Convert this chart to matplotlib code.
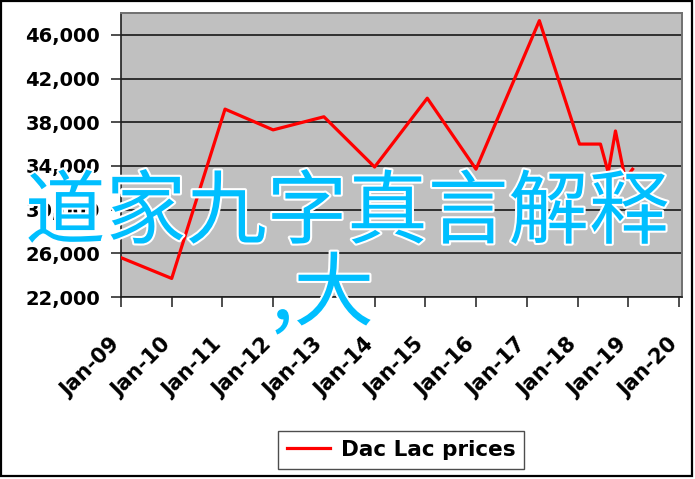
import numpy as np
import pandas as pd
import matplotlib
matplotlib.use('Agg')
import matplotlib.pyplot as plt
import matplotlib.dates as mdates
import matplotlib.patheffects as pe
from matplotlib.patches import Rectangle

# data
dates = ['2009-01-01','2010-01-01','2011-01-20','2012-01-01','2013-01-01','2014-01-01',
         '2015-01-15','2016-01-01','2017-04-01','2018-01-15','2018-06-15','2018-08-10',
         '2018-10-01','2018-12-10','2019-02-01']
prices = [25600, 23700, 39200, 37300, 38500, 33900,
          40200, 33700, 47300, 36000, 36000, 33400,
          37200, 32800, 33700]
series_name = 'Dac Lac prices'
yticks = [22000, 26000, 30000, 34000, 38000, 42000, 46000]
years = list(range(2009, 2021))
overlay1 = '道家九字真言解释'
overlay2 = ',大'

W, H = 695, 479
fig = plt.figure(figsize=(W/100, H/100), dpi=100)
ax = fig.add_axes([121/W, 1-297/H, (682-121)/W, (297-13)/H])
ax.set_facecolor('#c0c0c0')

x = pd.to_datetime(dates)
ax.plot(x, prices, color='#ff0000', lw=2.3, label=series_name, zorder=3)

ax.set_ylim(22000, 48000)
ax.set_xlim(pd.Timestamp('2009-01-01'), pd.Timestamp('2020-01-23'))
ax.set_yticks(yticks)
ax.set_yticklabels(['{:,}'.format(v) for v in yticks])
ax.set_xticks([pd.Timestamp(str(y)+'-01-01') for y in years])
ax.xaxis.set_major_formatter(mdates.DateFormatter('%b-%y'))

ax.grid(axis='y', color='#303030', lw=1.4, zorder=1)
ax.grid(axis='x', visible=False)
for s in ['left', 'bottom']:
    ax.spines[s].set_color('#202020')
    ax.spines[s].set_linewidth(1.2)
for s in ['top', 'right']:
    ax.spines[s].set_color('#707070')
    ax.spines[s].set_linewidth(1.4)

ax.tick_params(axis='both', length=7, width=1.2, color='#303030')
ax.tick_params(axis='y', pad=8, labelsize=14)
# labels hang from their baseline end, so they sit left of the tick like excel does
ax.tick_params(axis='x', pad=28, labelsize=15)
for lab in ax.get_yticklabels():
    lab.set_fontweight('bold')
for lab in ax.get_xticklabels():
    lab.set_fontweight('bold')
    lab.set_rotation(45)
    lab.set_ha('right')
    lab.set_va('baseline')
    lab.set_rotation_mode('anchor')

leg = fig.legend(loc='center', bbox_to_anchor=(401/W, 1-450/H), frameon=True, fancybox=False,
                 prop={'weight': 'bold', 'size': 15.5}, handlelength=2.0, borderpad=0.4,
                 handletextpad=0.5)
leg.get_frame().set_edgecolor('#202020')
leg.get_frame().set_linewidth(1.0)

# overlay text
outline = [pe.withStroke(linewidth=3, foreground='white')]
fig.text(347/W, 1-214/H, overlay1, fontsize=58, color='#00bfff', ha='center', va='center',
         family=['Noto Sans CJK SC', 'DejaVu Sans'], path_effects=outline, zorder=10)
fig.text(374/W, 1-296/H, overlay2, fontsize=58, color='#00bfff', ha='right', va='center',
         family=['Noto Sans CJK SC', 'DejaVu Sans'], path_effects=outline, zorder=10)

# outer frame
fig.patches.append(Rectangle((1/W, 1-476/H), 691/W, 475/H, transform=fig.transFigure,
                             fill=False, edgecolor='black', lw=1.6))

fig.savefig('out.png', dpi=100)
